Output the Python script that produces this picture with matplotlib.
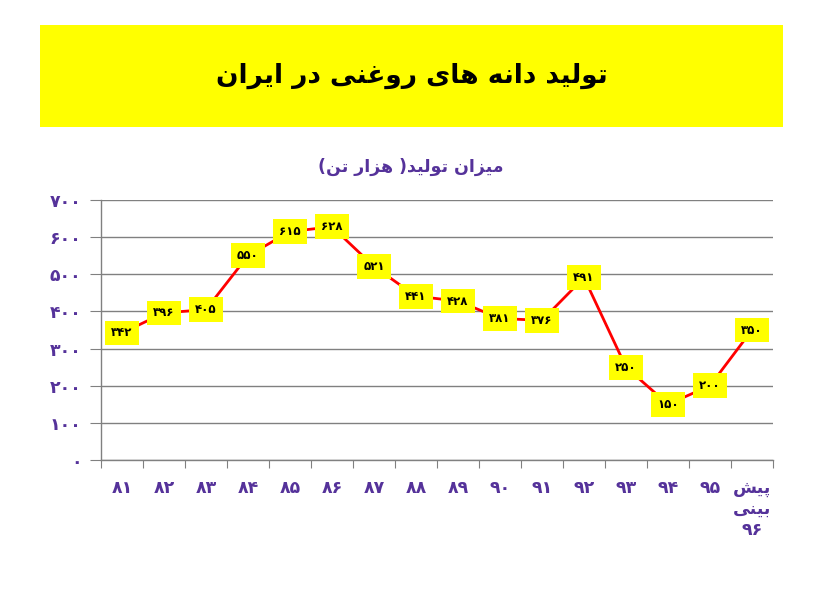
import matplotlib
matplotlib.use("Agg")
import matplotlib.pyplot as plt
from matplotlib.patches import Rectangle

# ---------------- data ----------------
categories = ['۸۱', '۸۲', '۸۳', '۸۴', '۸۵', '۸۶', '۸۷', '۸۸', '۸۹', '۹۰',
              '۹۱', '۹۲', '۹۳', '۹۴', '۹۵', 'پیش\nبینی\n۹۶']
production = [342, 396, 405, 550, 615, 628, 521, 441, 428, 381,
              376, 491, 250, 150, 200, 350]
value_labels = ['۳۴۲', '۳۹۶', '۴۰۵', '۵۵۰', '۶۱۵', '۶۲۸', '۵۲۱', '۴۴۱', '۴۲۸', '۳۸۱',
                '۳۷۶', '۴۹۱', '۲۵۰', '۱۵۰', '۲۰۰', '۳۵۰']
y_ticks = [0, 100, 200, 300, 400, 500, 600, 700]
y_tick_labels = ['۰', '۱۰۰', '۲۰۰', '۳۰۰', '۴۰۰', '۵۰۰', '۶۰۰', '۷۰۰']
title_text = 'تولید دانه های روغنی در ایران'
subtitle_text = 'میزان تولید( هزار تن)'

# ---------------- minimal Arabic/Persian shaping ----------------
FORMS = {
    'ا': ('\uFE8D', '\uFE8E', None, None),
    'ب': ('\uFE8F', '\uFE90', '\uFE91', '\uFE92'),
    'پ': ('\uFB56', '\uFB57', '\uFB58', '\uFB59'),
    'ت': ('\uFE95', '\uFE96', '\uFE97', '\uFE98'),
    'د': ('\uFEA9', '\uFEAA', None, None),
    'ر': ('\uFEAD', '\uFEAE', None, None),
    'ز': ('\uFEAF', '\uFEB0', None, None),
    'ش': ('\uFEB5', '\uFEB6', '\uFEB7', '\uFEB8'),
    'غ': ('\uFECD', '\uFECE', '\uFECF', '\uFED0'),
    'ل': ('\uFEDD', '\uFEDE', '\uFEDF', '\uFEE0'),
    'م': ('\uFEE1', '\uFEE2', '\uFEE3', '\uFEE4'),
    'ن': ('\uFEE5', '\uFEE6', '\uFEE7', '\uFEE8'),
    'ه': ('\uFEE9', '\uFEEA', '\uFEEB', '\uFEEC'),
    'و': ('\uFEED', '\uFEEE', None, None),
    'ی': ('\uFBFC', '\uFBFD', '\uFBFE', '\uFBFF'),
}
MIRROR = {'(': ')', ')': '('}


def _is_digit(c):
    return '\u06F0' <= c <= '\u06F9' or c.isdigit()


def shape_line(s):
    out = []
    n = len(s)
    for i, c in enumerate(s):
        if c not in FORMS:
            out.append(c)
            continue
        f = FORMS[c]
        prev = s[i - 1] if i > 0 else None
        nxt = s[i + 1] if i < n - 1 else None
        jp = prev in FORMS and FORMS[prev][2] is not None
        jn = f[2] is not None and nxt in FORMS
        if jp and jn:
            out.append(f[3])
        elif jp:
            out.append(f[1])
        elif jn:
            out.append(f[2])
        else:
            out.append(f[0])
    # visual reorder: reverse, keeping digit runs LTR
    runs = []
    for c in out:
        d = _is_digit(c)
        if runs and runs[-1][0] == d:
            runs[-1][1].append(c)
        else:
            runs.append([d, [c]])
    vis = []
    for d, chars in reversed(runs):
        if d:
            vis.extend(chars)
        else:
            vis.extend(MIRROR.get(c, c) for c in reversed(chars))
    return ''.join(vis)


def shape(s):
    return '\n'.join(shape_line(l) for l in s.split('\n'))


# ---------------- figure ----------------
PURPLE = '#55329A'
fig = plt.figure(figsize=(8.2, 6.16), dpi=100)
W, H = 820, 616

fig.patches.append(Rectangle((40 / W, 1 - 127 / H), 743 / W, 102 / H,
                             transform=fig.transFigure, facecolor='#FFFF00',
                             edgecolor='none', zorder=0))
fig.text(412 / W, 1 - 76 / H, shape(title_text), ha='center', va='center',
         fontsize=19, fontweight='bold', color='black', family=['DejaVu Sans'])
fig.text(411 / W, 1 - 167 / H, shape(subtitle_text), ha='center', va='center',
         fontsize=12.5, fontweight='bold', color=PURPLE, family=['DejaVu Sans'])

ax = fig.add_axes([101 / W, 1 - 460 / H, 672 / W, 260 / H])
x = list(range(len(categories)))
ax.plot(x, production, color='#FF0000', lw=2, zorder=3)
for xi, v, lab in zip(x, production, value_labels):
    ax.text(xi, v, lab, ha='center', va='center', fontsize=8.5, fontweight='bold',
            color='black', family=['DejaVu Sans'], zorder=4,
            bbox=dict(boxstyle='square,pad=0.5', facecolor='#FFFF00', edgecolor='none'))

ax.set_xlim(-0.5, len(categories) - 0.5)
ax.set_ylim(0, 700)
ax.set_yticks(y_ticks)
ax.set_yticklabels(y_tick_labels)
ax.yaxis.grid(True, color='#808080', lw=1)
ax.set_axisbelow(True)

ax.set_xticks([i - 0.5 for i in range(len(categories) + 1)])
ax.set_xticklabels([])
ax.set_xticks(x, minor=True)
ax.set_xticklabels([shape(c) for c in categories], minor=True)
ax.tick_params(axis='x', which='minor', length=0, pad=14, labelsize=12.5,
               labelcolor=PURPLE)
ax.tick_params(axis='x', which='major', length=6, color='#808080', direction='out')
ax.tick_params(axis='y', length=8, color='#808080', pad=6, labelsize=12.5,
               labelcolor=PURPLE)
for lbl in ax.get_xticklabels(minor=True) + ax.get_yticklabels():
    lbl.set_fontweight('bold')
    lbl.set_family(['DejaVu Sans'])
for lbl in ax.get_xticklabels(minor=True):
    lbl.set_verticalalignment('top')

for s in ['top', 'right']:
    ax.spines[s].set_visible(False)
for s in ['left', 'bottom']:
    ax.spines[s].set_color('#808080')
    ax.spines[s].set_linewidth(1)

fig.savefig('out.png', dpi=100)
